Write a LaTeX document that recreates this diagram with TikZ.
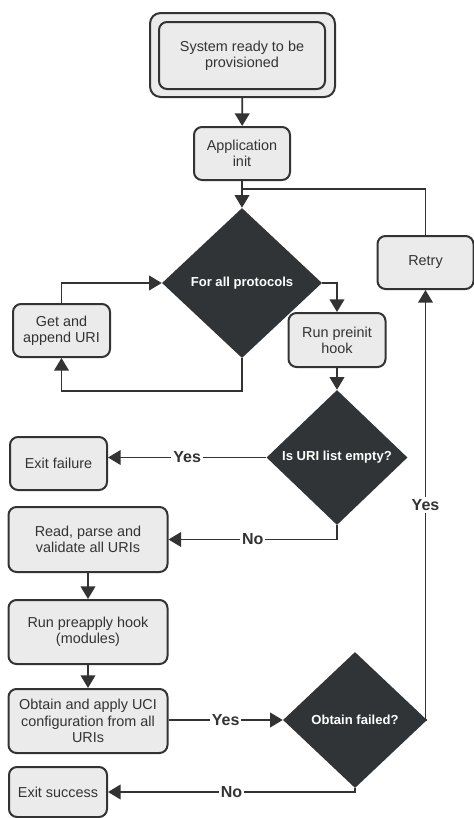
\documentclass[tikz,border=0pt]{standalone}
\usepackage{fontspec}
\setmainfont{Liberation Sans}
\usetikzlibrary{shapes.geometric,arrows.meta}

\definecolor{boxfill}{HTML}{EBEBEB}
\definecolor{ink}{HTML}{333333}
\definecolor{dark}{HTML}{303436}

\begin{document}
\begin{tikzpicture}[x=0.75pt,y=-0.75pt,
  box/.style={draw=ink,line width=1.5pt,fill=boxfill,rounded corners=6pt,inner sep=0pt,
    align=center,text=ink,font=\fontsize{10.8}{12.2}\selectfont},
  dec/.style={shape=diamond,fill=dark,inner sep=0pt,text=white,
    font=\bfseries\fontsize{9.8}{11.5}\selectfont},
  line/.style={draw=ink,line width=1.4pt},
  arr/.style={line,-{Triangle[length=9.5pt,width=11pt]}},
  lbl/.style={fill=white,inner sep=1.5pt,text=ink,font=\bfseries\fontsize{12}{14}\selectfont}]

\useasboundingbox (0,0) rectangle (474,818);

\node[box,minimum width=138.75pt,minimum height=63pt,rounded corners=8pt] (start) at (242.5,55) {};
\node[box,minimum width=124.5pt,minimum height=50.25pt] (ready) at (242,55.5) {System ready to be\\provisioned};
\node[box,minimum width=72pt,minimum height=39.75pt] (app) at (242,153.5) {Application\\init};

\node[dec,minimum width=120pt,minimum height=112.5pt] (protos) at (242,283) {For all protocols};
\node[box,minimum width=72.75pt,minimum height=39.75pt] (get) at (61.5,330.5) {Get and\\append URI};
\node[box,minimum width=72.75pt,minimum height=40.5pt] (preinit) at (337,340) {Run preinit\\hook};
\node[box,minimum width=72pt,minimum height=39.75pt] (retry) at (425.5,262.5) {Retry};
\coordinate (join) at (242,189);

\node[dec,minimum width=105.75pt,minimum height=101.25pt] (empty) at (337,457.5) {Is URI list empty?};
\node[box,minimum width=72.75pt,minimum height=39.75pt] (fail) at (58.5,463.5) {Exit failure};
\node[box,minimum width=119.25pt,minimum height=48.75pt] (read) at (88,539.5) {Read, parse and\\validate all URIs};
\node[box,minimum width=119.25pt,minimum height=48pt] (preapply) at (88,632) {Run preapply hook\\(modules)};
\node[box,minimum width=119.25pt,minimum height=48pt] (obtain) at (88,721) {Obtain and apply UCI\\configuration from all\\URIs};

\node[dec,minimum width=108pt,minimum height=102pt] (failed) at (355,720) {Obtain failed?};
\node[box,minimum width=73.5pt,minimum height=37.5pt] (success) at (58,792) {Exit success};

\draw[arr] (start) -- (app);
\draw[arr] (app) -- (protos.north);
\draw[line] (retry.north) |- (join);

\draw[arr] (protos.east) -| (preinit.north);
\draw[arr] (protos.south) -- ++(0,33) -| (get.south);
\draw[arr] (get.north) |- (protos.west);

\draw[arr] (preinit.south) -- (empty.north);
\draw[arr] (empty.west) -- node[lbl]{Yes} (empty.west -| fail.east);
\draw[arr] (empty.south) |- node[lbl,pos=0.75]{No} (read.east);

\draw[arr] (read.south) -- (preapply.north);
\draw[arr] (preapply.south) -- (obtain.north);
\draw[arr] (failed.west -| obtain.east) -- node[lbl]{Yes} (failed.west);
\draw[arr] (failed.east) -| node[lbl,pos=0.75]{Yes} (retry.south);
\draw[arr] (failed.south) |- node[lbl,pos=0.75]{No} (success.east);

\end{tikzpicture}
\end{document}
